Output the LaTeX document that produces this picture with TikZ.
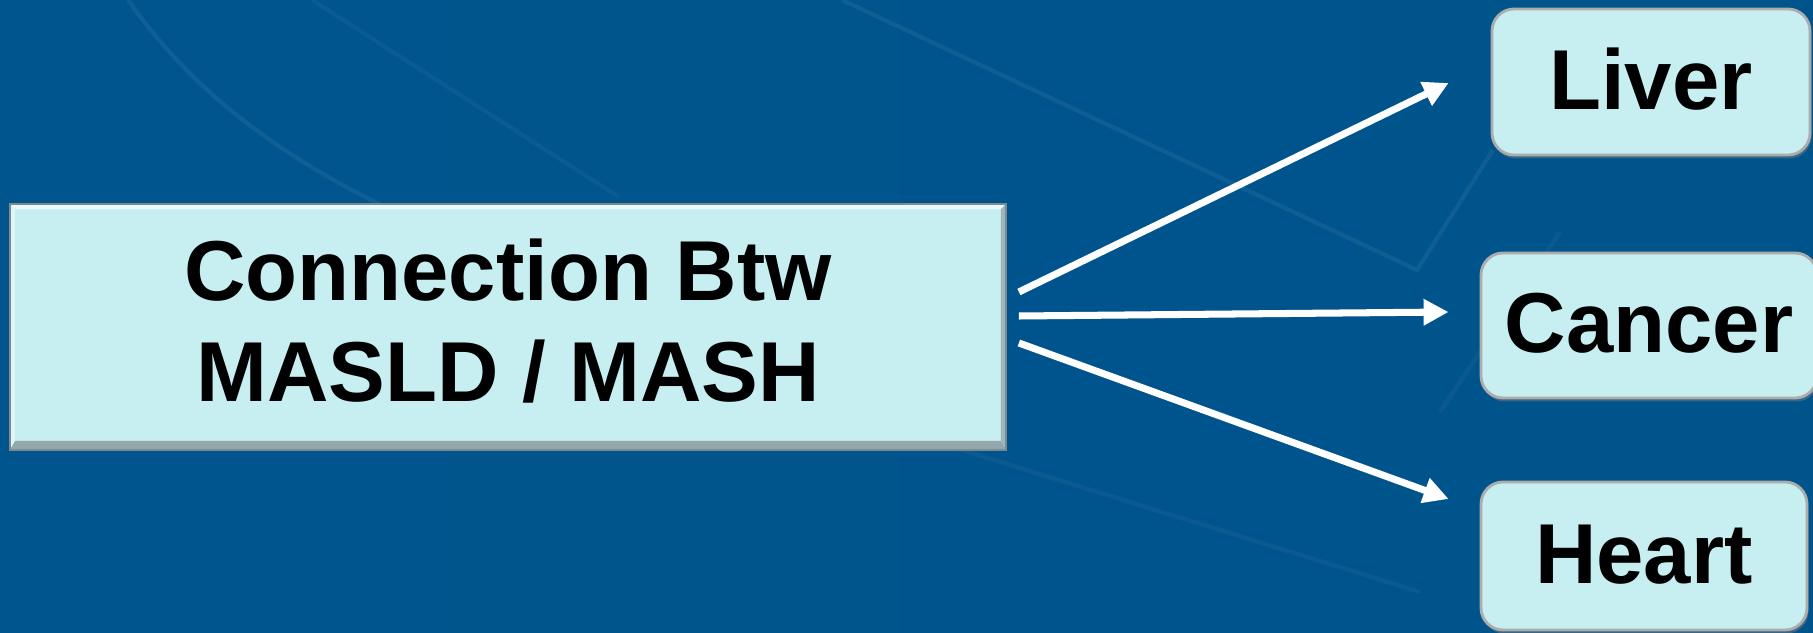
\documentclass[tikz,border=0pt]{standalone}
\usepackage{fontspec}
\setmainfont{Liberation Sans}
\usetikzlibrary{positioning,calc,arrows.meta,shadows}
\definecolor{slideblue}{HTML}{005A96}
\definecolor{slidedeep}{HTML}{00548C}
\definecolor{slidelite}{HTML}{00558E}
\definecolor{boxcyan}{HTML}{C7EEF1}
\definecolor{bevelgray}{HTML}{7D8A8E}
\definecolor{bevellite}{HTML}{E9FAFB}

\begin{document}
\begin{tikzpicture}[
  mainbox/.style={rectangle, fill=boxcyan, draw=bevelgray, line width=0.5pt, minimum width=9.94cm, minimum height=2.44cm, align=center, inner sep=0pt, text height=1.65cm, text depth=0.15cm},
  organbox/.style={rectangle, rounded corners=0.22cm, fill=boxcyan, draw=gray!65, line width=0.8pt, inner sep=0pt, text height=0.55cm, text depth=0cm, drop shadow={shadow xshift=0.015cm, shadow yshift=-0.035cm, opacity=0.45}},
  boxlabel/.style={font=\fontsize{24.2}{29}\selectfont\bfseries, text=black},
  linkarrow/.style={draw=white, line width=2pt, -{Triangle[length=0.25cm, width=0.25cm]}},
  bgline/.style={draw=white, opacity=0.06, line width=1.2pt},
]
% slide background, 1px = 0.01cm
\shade[left color=slidelite, middle color=slideblue, right color=slidedeep] (0,0) rectangle (18.13,6.32);
\useasboundingbox (0,0) rectangle (18.13,6.32);
% faint decorative strokes of the slide template
\draw[bgline] (1.28,6.32) .. controls (2.0,5.3) and (3.0,4.6) .. (4.4,4.0);
\draw[bgline, opacity=0.04] (3.12,6.32) -- (6.19,4.35);
\draw[bgline] (8.42,6.32) -- (14.17,3.62) -- (14.93,4.82);
\draw[bgline, opacity=0.04] (9.2,1.95) -- (14.2,0.4);
\draw[bgline, opacity=0.04] (14.4,2.2) -- (15.6,4.0);

% boxes
\node[mainbox, boxlabel] (main) at (5.08,3.05) {Connection Btw\\MASLD / MASH};
\fill[bevellite] (main.north west) -- (main.north east) -- ($(main.north east)+(-0.05,-0.05)$) -- ($(main.north west)+(0.05,-0.05)$) -- cycle;
\fill[bevellite!70!boxcyan] (main.north west) -- ($(main.north west)+(0.05,-0.05)$) -- ($(main.south west)+(0.05,0.09)$) -- (main.south west) -- cycle;
\fill[bevelgray!70!boxcyan] (main.south west) -- ($(main.south west)+(0.05,0.09)$) -- ($(main.south east)+(-0.05,0.09)$) -- (main.south east) -- cycle;
\fill[bevelgray!55!boxcyan] (main.north east) -- ($(main.north east)+(-0.05,-0.05)$) -- ($(main.south east)+(-0.05,0.09)$) -- (main.south east) -- cycle;
\draw[bevelgray, line width=0.5pt] (main.north west) rectangle (main.south east);

\node[organbox, boxlabel, minimum width=3.18cm, minimum height=1.46cm] (liver)  at (16.51,5.50) {Liver};
\node[organbox, boxlabel, minimum width=3.36cm, minimum height=1.45cm] (cancer) at (16.49,3.065) {Cancer};
\node[organbox, boxlabel, minimum width=3.26cm, minimum height=1.48cm] (heart)  at (16.44,0.76) {Heart};

% arrow ends
\coordinate (fromA) at ($(main.east)+(0.13,0.35)$);
\coordinate (fromB) at ($(main.east)+(0.13,0.11)$);
\coordinate (fromC) at ($(main.east)+(0.13,-0.16)$);
\coordinate (toA) at ($(liver.west)+(-0.42,-0.01)$);
\coordinate (toB) at ($(cancer.west)+(-0.31,0.135)$);
\coordinate (toC) at ($(heart.west)+(-0.31,0.57)$);
\draw[linkarrow] (fromA) -- (toA);
\draw[linkarrow] (fromB) -- (toB);
\draw[linkarrow] (fromC) -- (toC);
\end{tikzpicture}
\end{document}
